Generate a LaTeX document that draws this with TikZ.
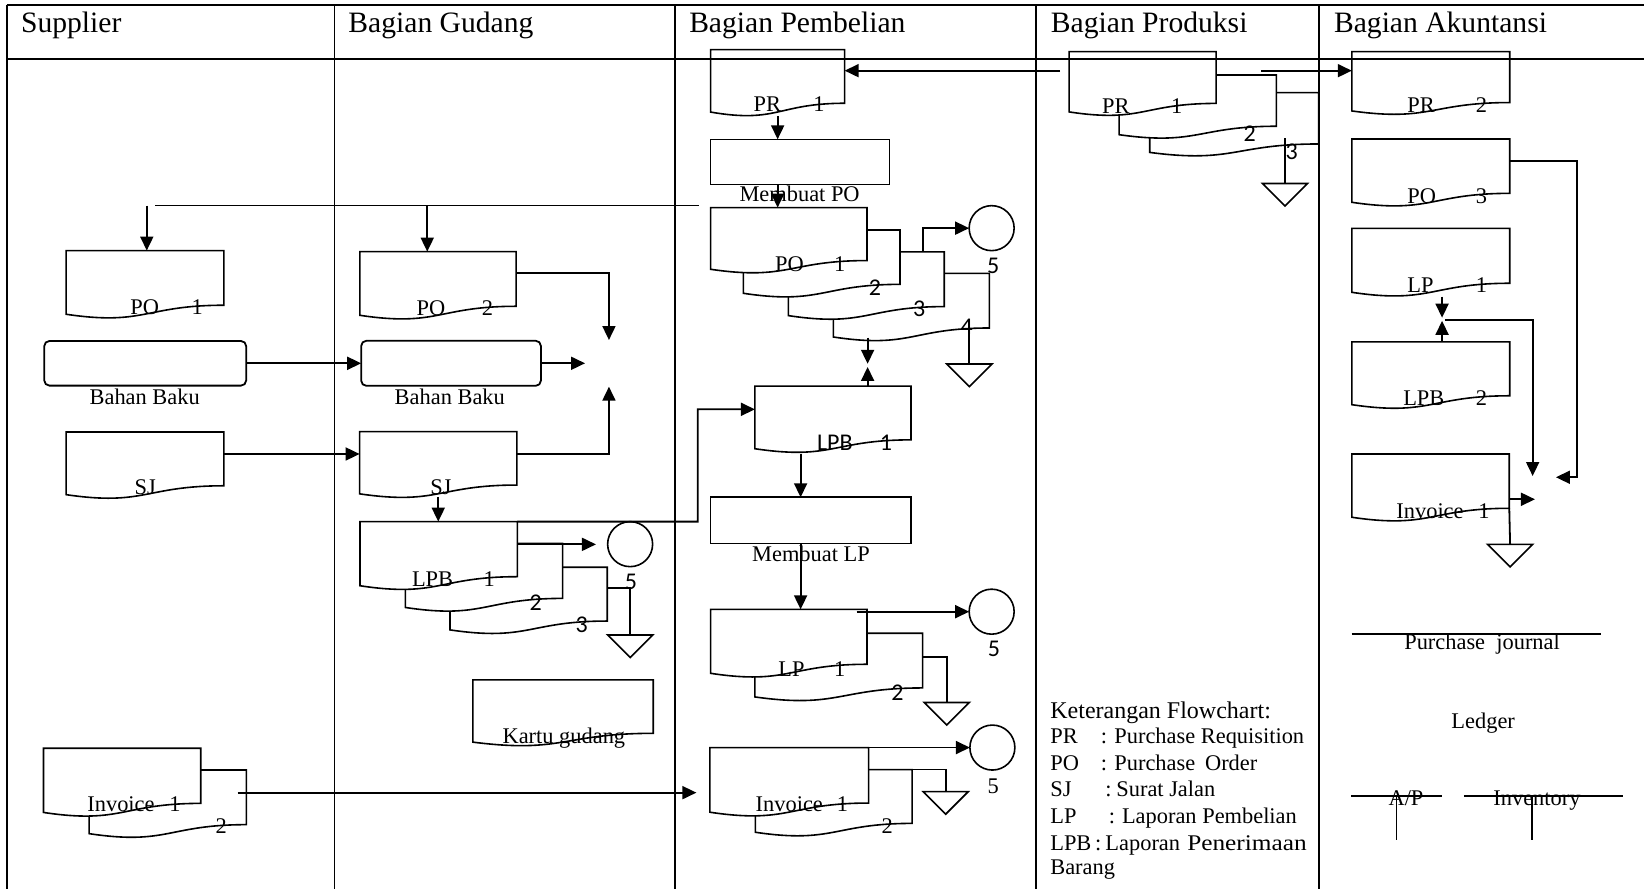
\documentclass[tikz,border=0pt]{standalone}
\usepackage{fontspec}
\usepackage{graphicx}
\setmainfont{Liberation Serif}
\newfontfamily\numfont{Carlito}
\usetikzlibrary{arrows.meta,calc}
\def\uu{0.52425pt}
\tikzset{
  ln/.style={line width=0.9pt},
  arr/.style={ln,-{Triangle[length=7pt,width=6.5pt]}},
  docline/.style={line width=0.8pt, draw, fill=white},
  docbox/.style={rectangle, draw=none, inner sep=0pt, outer sep=0pt},
  procbox/.style={rectangle, draw, line width=0.8pt, inner sep=0pt, outer sep=0pt},
  roundbox/.style={rectangle, rounded corners=2.6pt, draw, line width=0.9pt, inner sep=0pt, outer sep=0pt},
  conn/.style={circle, draw, line width=0.8pt, inner sep=0pt, outer sep=0pt, minimum size=22.5pt},
  lbl/.style={font=\fontsize{11.2}{13}\selectfont, inner sep=0pt, anchor=base west},
  lblc/.style={font=\fontsize{11.2}{13}\selectfont, inner sep=0pt, anchor=base},
  numl/.style={font=\numfont\fontsize{12}{14}\selectfont, inner sep=0pt, anchor=base},
  head/.style={font=\fontsize{14.8}{17}\selectfont, inner sep=0pt, anchor=base west},
  frame/.style={line width=1.1pt},
  triline/.style={line width=0.8pt},
}
\newcommand\Doc[5]{%
  \node[docbox, minimum width={#4*\uu}, minimum height={#5*\uu}] (#1) at ({#2+#4/2},{#3+#5/2}) {};
  \path[docline] (#1.north west) -- (#1.north east) -- ($(#1.north east)!0.802!(#1.south east)$)
    .. controls ($(#1.north)!0.802!(#1.south)$) and ($(#1.north)!1.107!(#1.south)$) .. ($(#1.north west)!0.934!(#1.south west)$) -- cycle;
}
\newcommand\Tri[3]{%
  \coordinate (#1) at (#2,#3);
  \draw[triline] ($(#1)+(-21.5,0)$) -- ($(#1)+(21.5,0)$) -- ($(#1)+(0,21.5)$) -- cycle;
}
\begin{document}
\begin{tikzpicture}[x=0.52425pt,y=-0.52425pt]
\useasboundingbox (0,0) rectangle (1568,848);

% ---------- documents ----------
\Doc{s_po}{63}{239}{150.5}{65}
\Doc{s_sj}{63}{412}{150.5}{64}
\Doc{s_inv2}{85}{734.4}{150}{65}
\Doc{s_inv1}{41.5}{713.7}{150}{65.5}
\Doc{g_po}{343.2}{240}{149}{65}
\Doc{g_sj}{343}{411.7}{150}{63.5}
\Doc{g_lpb3}{429.2}{541}{150}{64}
\Doc{g_lpb2}{386.6}{518.2}{150}{65.5}
\Doc{g_lpb1}{343.4}{497.5}{150}{65.5}
\Doc{g_kartu}{451}{648.5}{172}{63.5}
\Doc{b_pr}{677.8}{47.4}{127.8}{63.7}
\Doc{b_po4}{794.8}{260.7}{148.8}{65}
\Doc{b_po3}{751.9}{240.3}{148.7}{65}
\Doc{b_po2}{709}{219.4}{149.4}{64.6}
\Doc{b_po1}{677.8}{198}{149.1}{63}
\Doc{b_lpb}{720}{368.2}{148.9}{64}
\Doc{b_lp2}{720}{604}{160}{65}
\Doc{b_lp1}{677.8}{581.2}{149.1}{65.3}
\Doc{b_inv2}{720.4}{734}{149.6}{64}
\Doc{b_inv1}{677}{713}{151.4}{66}
\Doc{p_pr3}{1096.6}{88.4}{161}{61}
\Doc{p_pr2}{1067.4}{71.5}{149.9}{61}
\Doc{p_pr1}{1019.7}{49.3}{140.2}{61.5}
\Doc{a_pr}{1289.3}{49.3}{150.6}{60.5}
\Doc{a_po}{1289.3}{132.6}{150.6}{64.6}
\Doc{a_lp}{1289.3}{217.8}{150.6}{65.3}
\Doc{a_lpb}{1289.3}{326}{150.6}{64.2}
\Doc{a_inv}{1289.3}{433}{150.2}{64.6}

% ---------- process boxes ----------
\node[procbox, minimum width={170.4*\uu}, minimum height={42.9*\uu}] (b_mpo) at (763,154.35) {};
\node[procbox, minimum width={191.1*\uu}, minimum height={43.9*\uu}] (b_mlp) at (773.35,496.25) {};
\node[roundbox, minimum width={192.6*\uu}, minimum height={42.6*\uu}] (s_bb) at (138.5,346.5) {};
\node[roundbox, minimum width={171.4*\uu}, minimum height={43*\uu}] (g_bb) at (430.2,346.5) {};

% ---------- connectors (circles) ----------
\node[conn] (g_c) at (601,519) {};
\node[conn] (b_c1) at (945.8,217.6) {};
\node[conn] (b_c2) at (945.8,583.4) {};
\node[conn] (b_c3) at (946.5,713) {};

% ---------- offline files ----------
\Tri{g_t}{601}{605.6}
\Tri{b_t1}{924.5}{347.2}
\Tri{b_t2}{903}{670}
\Tri{b_t3}{902}{755}
\Tri{p_t}{1225.6}{175}
\Tri{a_t}{1440.3}{519.2}

% ---------- flows ----------
\draw[arr] (1011,67.4) -- (b_pr.east |- 0,67.4);
\draw[arr] (1202.7,67.4) -- (a_pr.west |- 0,67.4);
\draw[arr] (741.7,111) -- (b_mpo.north -| 741.7,0);
\draw[arr] (b_mpo.south -| 741.7,0) -- (b_po1.north -| 741.7,0);
\draw[ln] (148,196) -- (667,196);
\draw[arr] (140,196) -- (s_po.north -| 140,0);
\draw[arr] (407.5,196) -- (g_po.north -| 407.5,0);
\draw[arr] (880.6,240.3) |- (b_c1.west);
\draw[ln] (924.5,305) -- (b_t1);
\draw[arr] (827.5,322) -- (827.5,347);
\draw[arr] (b_lpb.north -| 827.5,0) -- (827.5,350);

\draw[arr] (g_po.east |- 0,260.7) -| (580.8,324.3);
\draw[arr] (s_bb.east) -- (g_bb.west);
\draw[arr] (g_bb.east) -- (558,346.5);
\draw[arr] (s_sj.east |- 0,433) -- (g_sj.west |- 0,433);
\draw[arr] (g_sj.east |- 0,433) -| (580.8,368.8);
\draw[arr] (418,474) -- (g_lpb1.north -| 418,0);
\draw[arr] (g_lpb1.north east) -- (665.4,497.5) -- (665.4,390.4) -- (b_lpb.west |- 0,390.4);
\draw[arr] (g_lpb1.east |- 0,519.2) -- (568.4,519.2);
\draw[ln] (579.2,561) -| (g_t);

\draw[arr] (763.6,433) -- (b_mlp.north -| 763.6,0);
\draw[arr] (b_mlp.south -| 763.6,0) -- (b_lp1.north -| 763.6,0);
\draw[arr] (817,583.4) -- (b_c2.west);
\draw[ln] (b_lp2.east |- 0,626.3) -| (b_t2);

\draw[arr] (226.7,756) -- (664.2,756);
\draw[arr] (818,713) -- (b_c3.west);
\draw[ln] (b_inv2.north east) -| (b_t3);

\draw[ln] (1225.6,131.9) -- (p_t);

\draw[arr] (a_po.east |- 0,153.2) -| (1504.4,455.2) -- (1484,455.2);
\draw[arr] (1375.4,283) -- (1375.4,303);
\draw[arr] (a_lpb.north -| 1375.4,0) -- (1375.4,306);
\draw[arr] (1378,305) -| (1461.8,454);
\draw[arr] (a_inv.east |- 0,476.2) -- (1464,476.2);
\draw[ln] (a_inv.east |- 0,484.8) -- (a_t);

% ledger lines
\draw[ln] (1289.2,605) -- (1526.6,605);
\draw[ln] (1289,758.9) -- (1375.6,758.9);
\draw[ln] (1332,758.9) -- (1332,801);
\draw[ln] (1396.3,758.9) -- (1548.3,758.9);
\draw[ln] (1461.5,758.9) -- (1461.5,801);

% ---------- labels ----------
\node[lbl] (t1) at (124,300) {PO};
\node[lblc] (t2) at (188,300) {1};
\node[lblc] (t3) at (138,386) {Bahan Baku};
\node[lbl] (t4) at (128,472) {SJ};
\node[lbl] (t5) at (83,774) {Invoice};
\node[lblc] (t6) at (167,774) {1};
\node[lblc] (t7) at (211,795) {2};

\node[lbl] (t8) at (397,301) {PO};
\node[lblc] (t9) at (465,301) {2};
\node[lblc] (t10) at (429,386) {Bahan Baku};
\node[lbl] (t11) at (410,472) {SJ};
\node[lbl] (t12) at (392.6,559.5) {LPB};
\node[lblc] (t13) at (466.7,559.5) {1};
\node[numl] (t14) at (511,581.8) {2};
\node[numl] (t15) at (554.8,603.4) {3};
\node[numl] (t16) at (601.8,562) {5};
\node[lbl] (t17) at (479,709) {Kartu gudang};

\node[lbl] (t18) at (718.5,106.5) {PR};
\node[lblc] (t19) at (781,106.5) {1};
\node[lbl] (t20) at (705,192.3) {Membuat PO};
\node[lbl] (t21) at (739,259) {PO};
\node[lblc] (t22) at (801,259) {1};
\node[numl] (t23) at (834.5,281.4) {2};
\node[numl] (t24) at (876.8,302) {3};
\node[numl] (t25) at (922,319.5) {4};
\node[numl] (t26) at (947.4,260.7) {5};
\node[numl, anchor=base west] (t27) at (779,429.8) {LPB};
\node[numl] (t28) at (845,429.8) {1};
\node[lbl] (t29) at (717,535.7) {Membuat LP};
\node[lbl] (t30) at (742,645.4) {LP};
\node[lblc] (t31) at (801,645.4) {1};
\node[numl] (t32) at (948,626.3) {5};
\node[numl] (t33) at (856,668) {2};
\node[lbl] (t34) at (720.4,774) {Invoice};
\node[lblc] (t35) at (803.5,774) {1};
\node[lblc] (t36) at (846.3,795) {2};
\node[lblc] (t37) at (947.4,756.6) {5};

\node[lbl] (t38) at (1050.8,108.5) {PR};
\node[lblc] (t39) at (1122.4,108.5) {1};
\node[numl] (t40) at (1192,135) {2};
\node[numl] (t41) at (1232,152.6) {3};

\node[lbl] (t42) at (1342,107) {PR};
\node[lblc] (t43) at (1413,107) {2};
\node[lbl] (t44) at (1342,194) {PO};
\node[lblc] (t45) at (1413,194) {3};
\node[lbl] (t46) at (1342,279) {LP};
\node[lblc] (t47) at (1413,279) {1};
\node[lbl] (t48) at (1338,386.3) {LPB};
\node[lblc] (t49) at (1413,386.3) {2};
\node[lbl] (t50) at (1331.5,494.4) {Invoice};
\node[lblc] (t51) at (1415.4,494.4) {1};
\node[lbl] (t52) at (1339,619) {Purchase\ \ journal};
\node[lbl] (t53) at (1384,694.6) {Ledger};
\node[lbl] (t54) at (1324,768.7) {A/P};
\node[lbl] (t55) at (1424,768.7) {Inventory};

% legend
\node[lbl, font=\fontsize{12}{14}\selectfont] (k0) at (1001.4,685) {Keterangan Flowchart:};
\node[lbl] (k1) at (1001.4,709) {PR};
\node[lbl] (k1c) at (1049.5,709) {:};
\node[lbl] (k1t) at (1062.5,709) {Purchase Requisition};
\node[lbl] (k2) at (1001.4,734.4) {PO};
\node[lbl] (k2c) at (1049.5,734.4) {:};
\node[lbl] (k2t) at (1062.5,734.4) {Purchase};
\node[lbl] (k2u) at (1149,734.4) {Order};
\node[lbl] (k3) at (1001.4,759.8) {SJ};
\node[lbl] (k3c) at (1054,759.8) {:};
\node[lbl] (k3t) at (1064.4,759.8) {Surat Jalan};
\node[lbl] (k4) at (1001.4,785.9) {LP};
\node[lbl] (k4c) at (1057.2,785.9) {:};
\node[lbl] (k4t) at (1069.8,785.9) {Laporan Pembelian};
\node[lbl] (k5) at (1001.4,810.7) {LPB};
\node[lbl] (k5c) at (1044,810.7) {:};
\node[lbl] (k5t) at (1054,810.7) {Laporan};
\node[lbl] (k5u) at (1132,810.7) {\scalebox{1.13}[1]{Penerimaan}};
\node[lbl] (k6) at (1001.4,834.5) {Barang};

% ---------- swimlane frame ----------
\draw[line width=0.7pt] (6.4,4.8) -- (1568,4.8);
\draw[frame] (6.4,56.6) -- (1568,56.6);
\draw[frame] (6.4,4.8) -- (6.4,848);
\draw[line width=0.5pt] (319.3,4.8) -- (319.3,848);
\draw[frame] (643.8,4.8) -- (643.8,848);
\draw[frame] (988,4.8) -- (988,848);
\draw[frame] (1258,4.8) -- (1258,848);
\node[head] (h1) at (19.7,31) {Supplier};
\node[head] (h2) at (332,31) {Bagian Gudang};
\node[head] (h3) at (657,31) {Bagian Pembelian};
\node[head] (h4) at (1002,31) {Bagian Produksi};
\node[head] (h5) at (1272,31) {Bagian Akuntansi};
\end{tikzpicture}
\end{document}
